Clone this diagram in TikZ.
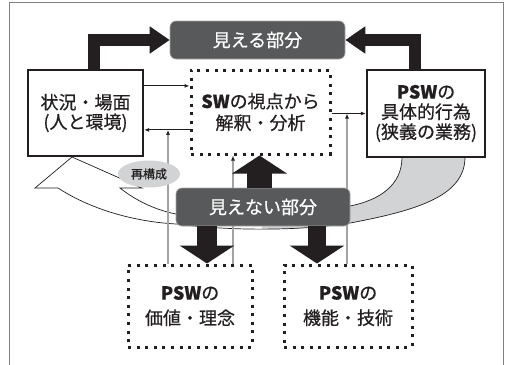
\documentclass[tikz,border=0pt]{standalone}
\usepackage{fontspec}
\setmainfont{Noto Sans CJK JP}[FakeBold=0.6]
\usetikzlibrary{arrows.meta,positioning,shapes.geometric}

\definecolor{inkblack}{HTML}{231F20}
\definecolor{darkbox}{HTML}{58595B}
\definecolor{bandgray}{HTML}{D1D3D4}
\definecolor{linegray}{HTML}{A3A3A3}

\tikzset{
  solidbox/.style={draw=inkblack, line width=2.2pt, text=inkblack, align=center,
    inner sep=0pt, font=\fontsize{18pt}{20pt}\selectfont},
  dotbox/.style={draw=inkblack, line width=3pt, dash pattern=on 3pt off 5.6pt,
    text=inkblack, align=center, inner sep=0pt, font=\fontsize{18pt}{20pt}\selectfont},
  darkpart/.style={fill=darkbox, draw=gray!70, line width=0.6pt, rounded corners=6pt,
    text=white, inner sep=0pt, minimum width=174pt, minimum height=38pt,
    font=\fontsize{18pt}{20pt}\selectfont},
  thickarr/.style={draw=inkblack, line width=12pt, -{Triangle[length=20pt,width=26pt]}},
  blockarr/.style={draw=inkblack, line width=#1, -{Triangle[length=18pt,width=54pt]}},
  thinarr/.style={draw=inkblack, line width=1.1pt, -{Latex[length=5pt,width=4pt]}},
  feedback/.style={draw=linegray, line width=1.5pt, -{Latex[length=5pt,width=4pt,color=inkblack]}},
}

\newcommand{\bandpath}{(72,157) -- (35,188) -- (58,188)
  .. controls (95,212) and (140,222) .. (176,224)
  .. controls (230,231) and (300,231) .. (350,223)
  .. controls (420,210) and (465,195) .. (465,157)
  -- (402,157)
  .. controls (402,185) and (380,200) .. (350,206)
  .. controls (290,216) and (220,218) .. (176,214)
  .. controls (155,210) and (135,200) .. (120,188)
  -- (142,188) -- cycle}

\begin{document}
\begin{tikzpicture}[x=1pt,y=-1pt]

\useasboundingbox (0,0) rectangle (505,364);
\draw[gray, line width=1pt] (9,370) -- (9,2) -- (503,2) -- (503,370);

% big curved arrow: grey behind the right box, white towards the left
\fill[white] \bandpath;
\begin{scope}
  \clip (262,0) rectangle (505,364);
  \fill[bandgray] \bandpath;
\end{scope}
\draw[inkblack, line width=0.7pt] \bandpath;

% boxes
\node[solidbox, minimum width=115pt, minimum height=86pt] (jokyo) at (85.5,113)
  {\raisebox{-4pt}{\shortstack{状況・場面\\(人と環境)}}};
\node[dotbox, minimum width=139pt, minimum height=84pt] (shiten) at (260.5,112)
  {\raisebox{-3pt}{\shortstack{{\bfseries SW}の視点から\\[2pt]解釈・分析}}};
\node[solidbox, minimum width=118pt, minimum height=87pt] (koui) at (426,113.5)
  {{\bfseries PSW}の\\具体的行為\\(狭義の業務)};
\node[dotbox, minimum width=124pt, minimum height=82pt,
  font=\fontsize{18pt}{25pt}\selectfont] (kachi) at (190,306)
  {{\bfseries PSW}の\\価値・理念};
\node[dotbox, minimum width=128pt, minimum height=82pt,
  font=\fontsize{18pt}{25pt}\selectfont] (kino) at (348,306)
  {{\bfseries PSW}の\\機能・技術};

% thin arrows between the boxes
\coordinate (ja) at ([yshift=-17pt]jokyo.north east);
\coordinate (jb) at ([yshift=-61pt]jokyo.north east);
\coordinate (sk) at ([yshift=-45pt]shiten.north east);
\draw[thinarr] (ja) -- (ja -| shiten.west);
\draw[thinarr] (jb -| shiten.west) -- (jb);
\draw[thinarr] (sk) -- (sk -| koui.west);

% grey feedback lines from the bottom boxes
\draw[feedback] ([xshift=-22pt]kachi.north) -- ([xshift=-22pt]kachi.north |- jb);
\draw[feedback] ([xshift=43pt]kachi.north) -- ([xshift=43pt]kachi.north |- shiten.south);
\draw[feedback] ([xshift=-1pt]kino.north) -- ([xshift=-1pt]kino.north |- sk);

\node[ellipse, fill=bandgray, inner sep=0pt, minimum width=62pt, minimum height=27pt,
  text=inkblack, font=\fontsize{12pt}{12pt}\selectfont] (saikosei) at (149,174) {再構成};

% dark labels
\node[darkpart, minimum width=175pt] (mieru) at (257.5,40) {見える部分};
\node[darkpart] (mienai) at (263,207) {見えない部分};

% thick arrows
\draw[thickarr] ([xshift=8.5pt]jokyo.north) |- (mieru.west);
\draw[thickarr] ([xshift=-11.5pt]koui.north) |- (mieru.east);
\draw[blockarr=25pt] ([xshift=-1pt]shiten.south |- mienai.north) -- ([xshift=-1pt]shiten.south);
\draw[blockarr=20pt] ([xshift=17pt]kachi.north |- mienai.south) -- ([xshift=17pt]kachi.north);
\draw[blockarr=18pt] ([xshift=-31pt]kino.north |- mienai.south) -- ([xshift=-31pt]kino.north);

\end{tikzpicture}
\end{document}
